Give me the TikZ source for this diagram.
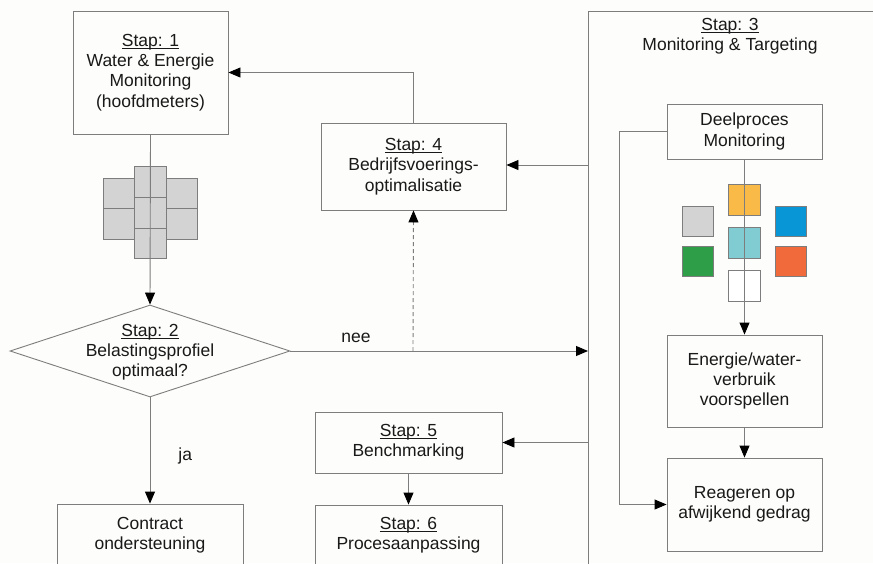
\documentclass[tikz,border=0pt]{standalone}
\usepackage{fontspec}
\setmainfont{Liberation Sans}
\usetikzlibrary{shapes.geometric,arrows.meta}
\definecolor{ln}{RGB}{125,125,125}
\definecolor{tx}{RGB}{25,25,25}
\definecolor{bg}{RGB}{253,253,251}
\definecolor{sqgray}{RGB}{211,211,211}
\definecolor{sqorange}{RGB}{250,186,72}
\definecolor{sqteal}{RGB}{128,204,210}
\definecolor{sqblue}{RGB}{8,150,214}
\definecolor{sqgreen}{RGB}{46,158,72}
\definecolor{sqred}{RGB}{240,106,60}
\newcommand{\stapul}[1]{\setbox0\hbox{#1}\rlap{\rule[-2.3pt]{\wd0}{0.7pt}}\box0}
\tikzset{
  box/.style={draw=ln, line width=0.9pt, fill=bg, inner sep=0pt, align=center, text=tx, font=\fontsize{17.5}{20.3}\selectfont},
  lbl/.style={inner sep=0pt, text=tx, align=center, font=\fontsize{17.5}{20.3}\selectfont},
  conn/.style={draw=ln, line width=0.9pt},
  arr/.style={conn, -{Triangle[length=12pt,width=10pt,color=black]}},
  meter/.style={draw=ln, line width=0.8pt, fill=sqgray},
  csq/.style={draw=ln, line width=0.8pt}
}
\begin{document}
\begin{tikzpicture}[x=1pt,y=-1pt]
\useasboundingbox (0,0) rectangle (873,563);
\fill[bg] (0,0) rectangle (873,563);
\clip (0,0) rectangle (873,563);

% boxes
\node[box, minimum width=155pt, minimum height=123pt] (b1) at (150.5,72.5) {\stapul{Stap: 1}\\Water \& Energie\\Monitoring\\(hoofdmeters)};
\node[box, minimum width=185pt, minimum height=87pt] (b4) at (413.5,166.5) {\stapul{Stap: 4}\\Bedrijfsvoerings-\\optimalisatie};
\node[box, minimum width=187pt, minimum height=61pt] (b5) at (408.5,442.5) {\stapul{Stap: 5}\\Benchmarking};
\node[box, minimum width=187pt, minimum height=61pt] (b6) at (408.5,535.5) {\stapul{Stap: 6}\\Procesaanpassing};
\node[box, minimum width=186pt, minimum height=62pt] (bc) at (150,535) {Contract\\ondersteuning};
\node[box, minimum width=155pt, minimum height=55pt] (dp) at (744.5,131.5) {Deelproces\\Monitoring};
\node[box, minimum width=155pt, minimum height=92pt] (ev) at (744.5,381) {Energie/water-\\verbruik\\voorspellen};
\node[box, minimum width=155pt, minimum height=93pt] (re) at (744.5,504.5) {Reageren op\\afwijkend gedrag};

% diamond
\node[draw=ln, line width=0.9pt, fill=bg, diamond, aspect=3.04, inner sep=0pt, minimum width=280pt, minimum height=92pt] (d) at (150,351) {};
\node[lbl] (dt) at (150,352) {\stapul{Stap: 2}\\Belastingsprofiel\\optimaal?};

% frame of step 3
\draw[conn] (588,570) -- (588,11) -- (880,11);
\node[lbl] (t3) at (730,36) {\stapul{Stap: 3}\\Monitoring \& Targeting};
\coordinate (f4) at (588,165);
\coordinate (fnee) at (588,351);
\coordinate (f5) at (588,442.5);
\coordinate (dsh) at (413,351);

% meter icon
\draw[meter] (103,178) rectangle (134,208);
\draw[meter] (103,208) rectangle (134,239);
\draw[meter] (166,178) rectangle (197,208);
\draw[meter] (166,208) rectangle (197,239);
\draw[meter] (134,166) rectangle (166,197);
\draw[meter] (134,197) rectangle (166,228);
\draw[meter] (134,228) rectangle (166,258);

% coloured squares
\draw[csq, fill=sqgray] (682,206) rectangle (713,236);
\draw[csq, fill=sqgreen] (682,246) rectangle (713,276);
\draw[csq, fill=sqorange] (728,184) rectangle (760,215);
\draw[csq, fill=sqteal] (728,227) rectangle (760,258);
\draw[csq, fill=white] (728,270) rectangle (760,301);
\draw[csq, fill=sqblue] (775,206) rectangle (806,236);
\draw[csq, fill=sqred] (775,246) rectangle (806,276);

% connectors
\draw[arr] (b1.south) -- (d.north);
\draw[arr] (d.south) -- node[lbl, pos=0.55, right=28pt] {ja} (bc.north);
\draw[arr] (d.east) -- node[lbl, pos=0.22, above=8pt] {nee} (fnee);
\draw[arr, dashed, dash pattern=on 4pt off 3pt] (dsh) -- (b4.south);
\draw[arr] (b4.north) |- (b1.east);
\draw[arr] (f4) -- (f4 -| b4.east);
\draw[arr] (f5) -- (b5.east);
\draw[arr] (b5.south) -- (b6.north);
\draw[arr] (dp.south) -- (ev.north);
\draw[arr] (ev.south) -- (re.north);
\draw[arr] (dp.west) -- ++(-47,0) |- (re.west);
\end{tikzpicture}
\end{document}
